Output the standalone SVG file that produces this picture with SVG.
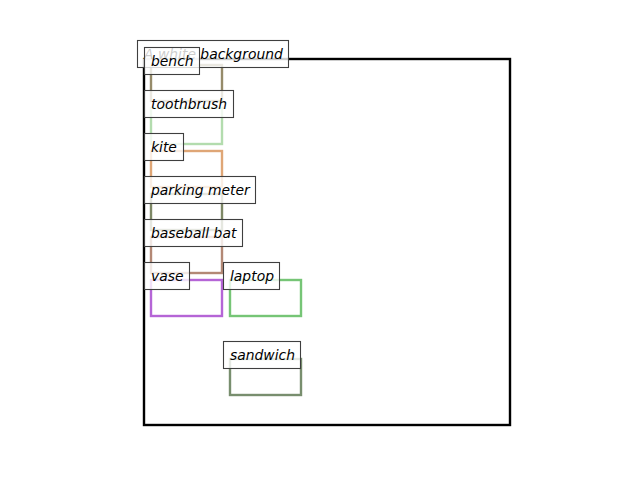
<svg xmlns="http://www.w3.org/2000/svg" width="640" height="480" viewBox="0 0 640 480">
<style>
.box{fill:none;stroke-width:2.4}
.lbl rect{fill:#fff;fill-opacity:0.8;stroke:#3f3f3f;stroke-width:1.1}
.lbl text{font-family:"DejaVu Sans",sans-serif;font-style:oblique;font-size:13.9px;fill:#000}
</style>
<rect width="640" height="480" fill="#fff"/>
<g id="boxes">
<rect id="frame" class="box" x="144" y="59" width="366" height="366" stroke="#000"/>
<rect id="bench-box" class="box" x="151" y="65" width="71" height="36" stroke="#968b6a"/>
<rect id="toothbrush-box" class="box" x="151" y="108" width="71" height="36" stroke="#b3dcae"/>
<rect id="kite-box" class="box" x="151" y="151" width="71" height="36" stroke="#dfa676"/>
<rect id="parking-meter-box" class="box" x="151" y="194" width="71" height="36" stroke="#7e8866"/>
<rect id="baseball-bat-box" class="box" x="151" y="237" width="71" height="36" stroke="#b38875"/>
<rect id="vase-box" class="box" x="151" y="280" width="71" height="36" stroke="#b565d6"/>
<rect id="laptop-box" class="box" x="230" y="280" width="71" height="36" stroke="#76c576"/>
<rect id="sandwich-box" class="box" x="230" y="359" width="71" height="36" stroke="#788e6e"/>
</g>
<g id="label-background" class="lbl"><rect x="137.5" y="40.5" width="151" height="27"/><text x="144" y="58.5">A white background</text></g>
<g id="label-bench" class="lbl"><rect x="144.5" y="47.5" width="55" height="27"/><text x="151" y="65.5">bench</text></g>
<g id="label-toothbrush" class="lbl"><rect x="144.5" y="90.5" width="89" height="27"/><text x="151" y="108.5">toothbrush</text></g>
<g id="label-kite" class="lbl"><rect x="144.5" y="133.5" width="39" height="27"/><text x="151" y="151.5">kite</text></g>
<g id="label-parking-meter" class="lbl"><rect x="144.5" y="176.5" width="111" height="27"/><text x="151" y="194.5">parking meter</text></g>
<g id="label-baseball-bat" class="lbl"><rect x="144.5" y="219.5" width="98" height="27"/><text x="151" y="237.5">baseball bat</text></g>
<g id="label-vase" class="lbl"><rect x="144.5" y="262.5" width="45" height="27"/><text x="151" y="280.5">vase</text></g>
<g id="label-laptop" class="lbl"><rect x="223.5" y="262.5" width="56" height="27"/><text x="230" y="280.5">laptop</text></g>
<g id="label-sandwich" class="lbl"><rect x="223.5" y="341.5" width="77" height="27"/><text x="230" y="359.5">sandwich</text></g>
</svg>
